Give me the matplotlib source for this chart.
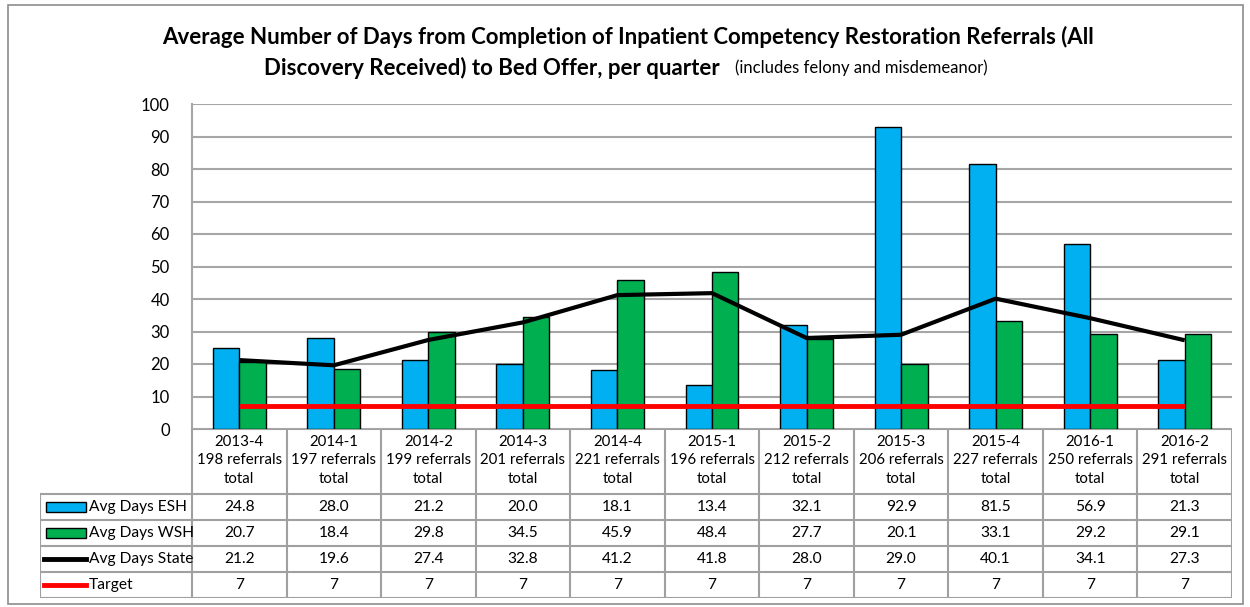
import numpy as np
import matplotlib.pyplot as plt
from matplotlib.patches import Rectangle

quarters = ["2013-4", "2014-1", "2014-2", "2014-3", "2014-4", "2015-1",
            "2015-2", "2015-3", "2015-4", "2016-1", "2016-2"]
referrals = [198, 197, 199, 201, 221, 196, 212, 206, 227, 250, 291]
esh = [24.8, 28.0, 21.2, 20.0, 18.1, 13.4, 32.1, 92.9, 81.5, 56.9, 21.3]
wsh = [20.7, 18.4, 29.8, 34.5, 45.9, 48.4, 27.7, 20.1, 33.1, 29.2, 29.1]
state = [21.2, 19.6, 27.4, 32.8, 41.2, 41.8, 28.0, 29.0, 40.1, 34.1, 27.3]
target = [7] * 11

series_names = ["Avg Days ESH", "Avg Days WSH", "Avg Days State", "Target"]
ESH_C = "#00B0F0"
WSH_C = "#00B050"
GRID_C = "#A6A6A6"

plt.rcParams['font.family'] = ['Lato', 'DejaVu Sans']

W, H = 1250, 607
fig = plt.figure(figsize=(W / 100, H / 100), dpi=100)

# outer frame
fig.add_artist(Rectangle((8 / W, 1 - 604 / H), 1235 / W, 599 / H,
                         transform=fig.transFigure, fill=False,
                         edgecolor="#8C8C8C", lw=1.2))

left, right, top, bottom = 192, 1232, 104, 429
ax = fig.add_axes([left / W, 1 - bottom / H, (right - left) / W, (bottom - top) / H])

n = len(quarters)
x = np.arange(n)
bw = 0.28
ax.bar(x - bw / 2, esh, bw, color=ESH_C, edgecolor="black", lw=1.0, zorder=2)
ax.bar(x + bw / 2, wsh, bw, color=WSH_C, edgecolor="black", lw=1.0, zorder=2)
ax.plot(x, state, color="black", lw=3, zorder=3, solid_capstyle="butt")
ax.plot(x, target, color="#FF0000", lw=3.5, zorder=3, solid_capstyle="butt")

ax.set_xlim(-0.5, n - 0.5)
ax.set_ylim(0, 100)
ax.set_yticks(np.arange(0, 101, 10))
ax.yaxis.grid(True, color=GRID_C, lw=1.5, zorder=0)
ax.set_axisbelow(True)
ax.set_xticks([])
ax.tick_params(axis="y", length=0, pad=16, labelsize=12, labelcolor="#000000")
for s in ["top", "right", "bottom"]:
    ax.spines[s].set_visible(False)
ax.spines["left"].set_color(GRID_C)
ax.spines["left"].set_linewidth(1.5)

# data table below the plot
tleft, tbottom = 40, 598
unit = (right - left) / n
tax = fig.add_axes([tleft / W, 1 - tbottom / H, (right - tleft) / W, (tbottom - bottom) / H])
x0 = -0.5 - (left - tleft) / unit
tax.set_xlim(x0, n - 0.5)
tax.set_ylim(0, tbottom - bottom)
tax.axis("off")
row_h = 26
hdr_bot = 4 * row_h
top_y = tbottom - bottom
lc = "#A0A0A0"
tax.plot([-0.5, n - 0.5], [top_y, top_y], color=lc, lw=1.5)
for r in range(5):
    tax.plot([x0, n - 0.5], [r * row_h, r * row_h], color=lc, lw=1.5)
for k in range(n + 1):
    tax.plot([k - 0.5, k - 0.5], [0, top_y], color=lc, lw=1.5)
tax.plot([x0, x0], [0, hdr_bot], color=lc, lw=1.5)

fs = 11.2
for i in range(n):
    tax.text(x[i], (top_y + hdr_bot) / 2 + 1,
             "%s\n%d referrals\ntotal" % (quarters[i], referrals[i]),
             ha="center", va="center", fontsize=10.8, linespacing=1.4)
rows = [esh, wsh, state, target]
for r, vals in enumerate(rows):
    yc = hdr_bot - (r + 0.5) * row_h
    for i in range(n):
        txt = "%d" % vals[i] if r == 3 else "%.1f" % vals[i]
        tax.text(x[i], yc, txt, ha="center", va="center", fontsize=fs)

# legend keys in the first column
sw0 = x0 + 6 / unit
sw1 = x0 + 46 / unit
for r, name in enumerate(series_names):
    yc = hdr_bot - (r + 0.5) * row_h
    if r < 2:
        tax.add_patch(Rectangle((sw0, yc - 5), sw1 - sw0, 10,
                                facecolor=[ESH_C, WSH_C][r], edgecolor="black", lw=1.0))
    else:
        tax.plot([sw0 - 2 / unit, sw1], [yc, yc], color=["black", "#FF0000"][r - 2], lw=3.5)
    tax.text(sw1 + 3 / unit, yc, name, ha="left", va="center", fontsize=fs)

# title
fig.text(628 / W, 1 - 37 / H,
         "Average Number of Days from Completion of Inpatient Competency Restoration Referrals (All",
         ha="center", va="center", fontsize=16, fontweight="bold")
fig.text(720 / W, 1 - 68 / H, "Discovery Received) to Bed Offer, per quarter",
         ha="right", va="center", fontsize=16, fontweight="bold")
fig.text(735 / W, 1 - 68 / H, "(includes felony and misdemeanor)",
         ha="left", va="center", fontsize=12)

fig.savefig("out.png", dpi=100)
